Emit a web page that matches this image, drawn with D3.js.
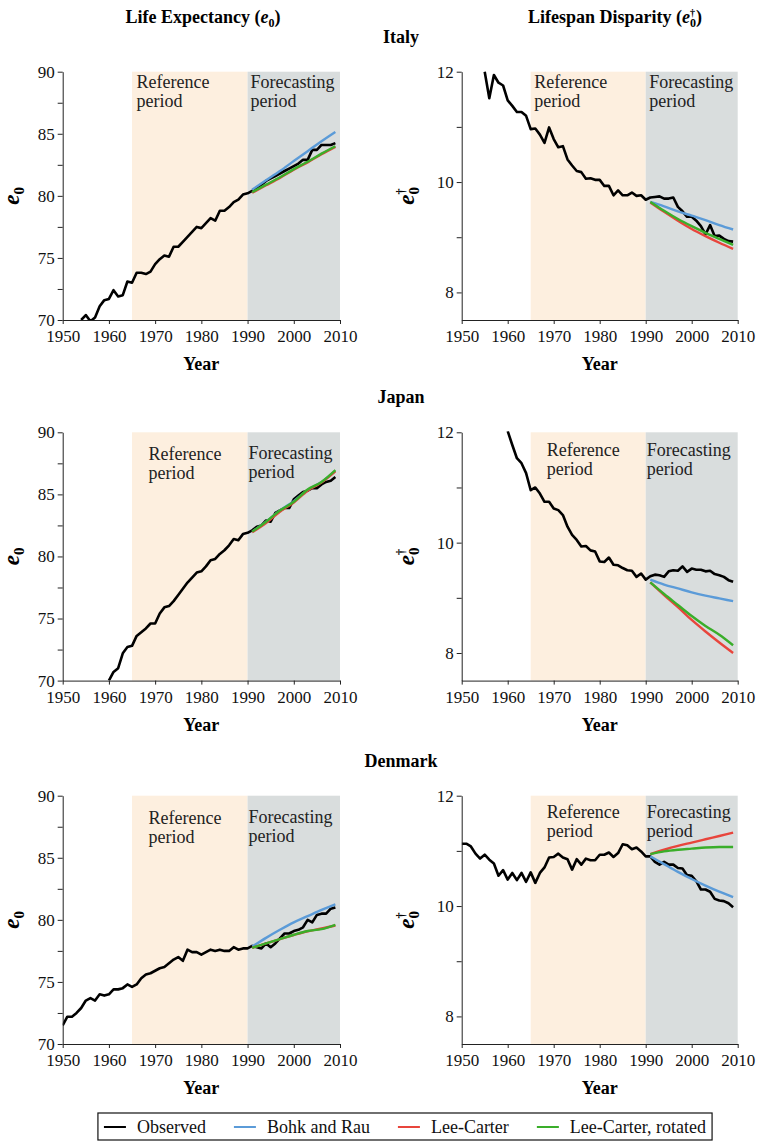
<!DOCTYPE html>
<html>
<head>
<meta charset="utf-8">
<script src="https://cdn.jsdelivr.net/npm/d3@7"></script>
<style>
  body { margin: 0; background: #fff; }
  svg { display: block; }
</style>
</head>
<body>
<svg id="chart" width="760" height="1142"></svg>
<script>
/* ---------- Data ---------- */
var countries = ["Italy", "Japan", "Denmark"];
var seriesNames = ["Observed", "Bohk and Rau", "Lee-Carter", "Lee-Carter, rotated"];
var seriesColors = ["#000000", "#5b9bd8", "#e8453c", "#3aae2a"];
var xTicks = [1950, 1960, 1970, 1980, 1990, 2000, 2010];
var e0Ticks = [70, 72.5, 75, 77.5, 80, 82.5, 85, 87.5, 90];
var edTicks = [8, 9, 10, 11, 12];
var referencePeriod = [1965, 1990];
var forecastPeriod = [1990, 2010];
var forecastYears = [1991, 1994, 1997, 2000, 2003, 2006, 2009];

/* observed series: first year + yearly values */
var italyE0Start = 1954;
var italyE0Obs = [70.0, 70.4, 69.9, 70.2, 71.1, 71.6, 71.7, 72.4, 71.9, 72.0,
  73.1, 73.0, 73.8, 73.8, 73.7, 73.9, 74.5, 74.9, 75.2, 75.1,
  75.9, 75.9, 76.3, 76.7, 77.1, 77.5, 77.4, 77.8, 78.2, 78.0,
  78.8, 78.8, 79.1, 79.5, 79.7, 80.1, 80.2, 80.4, 80.6, 80.9,
  81.2, 81.4, 81.6, 81.8, 82.0, 82.2, 82.4, 82.6, 82.9, 82.9,
  83.7, 83.7, 84.1, 84.1, 84.1, 84.25];
var italyEdStart = 1955;
var italyEdObs = [12.0, 11.52, 11.94, 11.8, 11.75, 11.48, 11.38, 11.27, 11.27, 11.2,
  10.96, 10.97, 10.86, 10.71, 10.99, 10.78, 10.63, 10.65, 10.41, 10.3,
  10.2, 10.18, 10.06, 10.07, 10.04, 10.04, 9.93, 9.93, 9.76, 9.85,
  9.76, 9.76, 9.81, 9.75, 9.76, 9.68, 9.72, 9.73, 9.74, 9.7,
  9.7, 9.72, 9.55, 9.47, 9.37, 9.37, 9.3, 9.2, 9.05, 9.22,
  9.02, 9.03, 8.97, 8.93, 8.92];
var japanE0Start = 1960;
var japanE0Obs = [70.0, 70.7, 71.0, 72.2, 72.7, 72.8, 73.6, 73.9, 74.2, 74.6,
  74.6, 75.4, 75.9, 76.0, 76.4, 76.9, 77.4, 77.9, 78.3, 78.7,
  78.8, 79.2, 79.7, 79.8, 80.2, 80.5, 80.9, 81.4, 81.3, 81.8,
  81.9, 82.1, 82.4, 82.5, 82.9, 82.8, 83.5, 83.7, 83.9, 83.9,
  84.6, 84.9, 85.2, 85.3, 85.5, 85.5, 85.8, 86.0, 86.1, 86.4];
var japanEdStart = 1960;
var japanEdObs = [12.02, 11.77, 11.53, 11.44, 11.26, 10.95, 11.0, 10.89, 10.74, 10.74,
  10.62, 10.59, 10.5, 10.29, 10.14, 10.05, 9.93, 9.94, 9.86, 9.84,
  9.66, 9.65, 9.73, 9.6, 9.59, 9.54, 9.5, 9.49, 9.38, 9.44,
  9.33, 9.39, 9.42, 9.41, 9.38, 9.48, 9.5, 9.49, 9.57, 9.47,
  9.53, 9.51, 9.51, 9.48, 9.49, 9.43, 9.41, 9.38, 9.32, 9.29];
var denmarkE0Start = 1950;
var denmarkE0Obs = [71.5, 72.2, 72.2, 72.5, 72.9, 73.5, 73.7, 73.5, 74.0, 73.9,
  74.0, 74.4, 74.4, 74.5, 74.8, 74.6, 74.8, 75.3, 75.6, 75.7,
  75.9, 76.1, 76.2, 76.5, 76.8, 77.0, 76.7, 77.6, 77.4, 77.4,
  77.2, 77.4, 77.6, 77.5, 77.6, 77.5, 77.5, 77.8, 77.6, 77.7,
  77.7, 77.9, 77.8, 77.7, 78.1, 77.8, 78.1, 78.5, 78.9, 78.9,
  79.1, 79.2, 79.4, 80.0, 79.8, 80.4, 80.5, 80.5, 80.9, 81.0];
var denmarkEdStart = 1950;
var denmarkEdObs = [11.13, 11.13, 11.08, 10.95, 10.86, 10.93, 10.84, 10.77, 10.55, 10.65,
  10.48, 10.6, 10.47, 10.6, 10.44, 10.61, 10.42, 10.6, 10.7, 10.88,
  10.89, 10.95, 10.88, 10.85, 10.66, 10.85, 10.75, 10.86, 10.83, 10.83,
  10.93, 10.93, 10.97, 10.89, 10.96, 11.12, 11.1, 11.03, 11.06, 10.99,
  10.9, 10.9, 10.8, 10.75, 10.8, 10.75, 10.75, 10.69, 10.68, 10.56,
  10.55, 10.45, 10.3, 10.3, 10.26, 10.13, 10.1, 10.09, 10.05, 9.98];

/* forecasts at forecastYears */
var italyE0Bohk = [80.5, 81.25, 82.0, 82.8, 83.6, 84.4, 85.15];
var italyE0Lc = [80.25, 80.85, 81.45, 82.1, 82.7, 83.35, 83.95];
var italyE0Lcr = [80.3, 80.9, 81.5, 82.15, 82.75, 83.4, 84.0];
var italyEdBohk = [9.64, 9.56, 9.47, 9.39, 9.31, 9.22, 9.14];
var italyEdLc = [9.63, 9.46, 9.3, 9.15, 9.02, 8.9, 8.79];
var italyEdLcr = [9.64, 9.48, 9.33, 9.2, 9.08, 8.97, 8.86];
var japanE0Bohk = [82.0, 82.8, 83.7, 84.45, 85.35, 86.0, 86.9];
var japanE0Lc = [81.95, 82.7, 83.6, 84.35, 85.3, 85.95, 86.85];
var japanE0Lcr = [82.0, 82.8, 83.7, 84.4, 85.4, 86.0, 86.95];
var japanEdBohk = [9.33, 9.24, 9.17, 9.1, 9.04, 8.99, 8.94];
var japanEdLc = [9.28, 9.05, 8.83, 8.6, 8.39, 8.19, 8.0];
var japanEdLcr = [9.28, 9.07, 8.87, 8.67, 8.49, 8.33, 8.14];
var denmarkE0Bohk = [77.85, 78.55, 79.2, 79.8, 80.3, 80.8, 81.25];
var denmarkE0Lc = [77.75, 78.1, 78.45, 78.78, 79.08, 79.3, 79.55];
var denmarkE0Lcr = [77.75, 78.1, 78.45, 78.8, 79.1, 79.25, 79.6];
var denmarkEdBohk = [10.9, 10.76, 10.62, 10.49, 10.37, 10.26, 10.16];
var denmarkEdLc = [10.94, 11.02, 11.09, 11.15, 11.21, 11.27, 11.33];
var denmarkEdLcr = [10.94, 10.99, 11.02, 11.04, 11.06, 11.07, 11.07];

/* ---------- Layout ---------- */
var fontFamily = '"Liberation Serif", "Times New Roman", Times, serif';
var colX = [[62.7, 340], [461.7, 737.7]];
var rowTop = [71.7, 432.3, 795.7];
var plotH = 248.3;
var tickFont = 17;
var noteFont = 18;

var svg = d3.select("svg#chart").style("font-family", fontFamily);

/* annotation offsets: [refDx, refDy, fcDx, fcDy] per row/column */
var noteOffsets = [
  [[4.5, 16.5, 3, 16.5], [3.5, 16.5, 3.5, 16.5]],
  [[16.5, 28, 1, 27], [16, 24, 1, 24]],
  [[16.5, 28, 1, 27], [16, 22.5, 1, 22.5]]
];

var panels = [
  { row: 0, col: 0, start: italyE0Start, obs: italyE0Obs, fc: [italyE0Bohk, italyE0Lc, italyE0Lcr] },
  { row: 0, col: 1, start: italyEdStart, obs: italyEdObs, fc: [italyEdBohk, italyEdLc, italyEdLcr] },
  { row: 1, col: 0, start: japanE0Start, obs: japanE0Obs, fc: [japanE0Bohk, japanE0Lc, japanE0Lcr] },
  { row: 1, col: 1, start: japanEdStart, obs: japanEdObs, fc: [japanEdBohk, japanEdLc, japanEdLcr] },
  { row: 2, col: 0, start: denmarkE0Start, obs: denmarkE0Obs, fc: [denmarkE0Bohk, denmarkE0Lc, denmarkE0Lcr] },
  { row: 2, col: 1, start: denmarkEdStart, obs: denmarkEdObs, fc: [denmarkEdBohk, denmarkEdLc, denmarkEdLcr] }
];

function drawPanel(p, idx) {
  var x0 = colX[p.col][0], x1 = colX[p.col][1];
  var top = rowTop[p.row], bottom = top + plotH;
  var isE0 = p.col === 0;

  var x = d3.scaleLinear().domain([1950, 2010]).range([x0, x1]);
  var y = d3.scaleLinear().domain(isE0 ? [70, 90] : [7.5, 12]).range([bottom, top]);

  var g = svg.append("g").attr("class", "panel");

  /* shaded periods */
  g.append("rect")
    .attr("x", x(referencePeriod[0])).attr("y", top)
    .attr("width", x(referencePeriod[1]) - x(referencePeriod[0]))
    .attr("height", plotH)
    .attr("fill", "#fdefdf");
  g.append("rect")
    .attr("x", x(forecastPeriod[0])).attr("y", top)
    .attr("width", x(forecastPeriod[1]) - x(forecastPeriod[0]))
    .attr("height", plotH)
    .attr("fill", "#d9dddd");

  /* period labels */
  var off = noteOffsets[p.row][p.col];
  var notes = [
    { x: x(referencePeriod[0]) + off[0], y: top + off[1], lines: ["Reference", "period"] },
    { x: x(forecastPeriod[0]) + off[2], y: top + off[3], lines: ["Forecasting", "period"] }
  ];
  notes.forEach(function(n) {
    var t = g.append("text")
      .attr("x", n.x).attr("y", n.y)
      .style("font-size", noteFont + "px")
      .attr("fill", "#222");
    n.lines.forEach(function(l, i) {
      t.append("tspan").attr("x", n.x).attr("dy", i === 0 ? 0 : 19).text(l);
    });
  });

  /* clip */
  var clipId = "clip" + idx;
  g.append("clipPath").attr("id", clipId)
    .append("rect").attr("x", x0).attr("y", top - 1).attr("width", x1 - x0 + 2).attr("height", plotH + 1);

  var lines = g.append("g").attr("clip-path", "url(#" + clipId + ")");

  var obsLine = d3.line()
    .x(function(d, i) { return x(p.start + i); })
    .y(function(d) { return y(d); });

  lines.append("path")
    .datum(p.obs)
    .attr("d", obsLine)
    .attr("fill", "none")
    .attr("stroke", seriesColors[0])
    .attr("stroke-width", 2.6)
    .attr("stroke-linejoin", "round");

  var fcLine = d3.line()
    .x(function(d, i) { return x(forecastYears[i]); })
    .y(function(d) { return y(d); })
    .curve(d3.curveMonotoneX);

  p.fc.forEach(function(s, k) {
    lines.append("path")
      .datum(s)
      .attr("d", fcLine)
      .attr("fill", "none")
      .attr("stroke", seriesColors[k + 1])
      .attr("stroke-width", 2.4)
      .attr("stroke-linejoin", "round");
  });

  /* axes */
  var yAxis = d3.axisLeft(y)
    .tickValues(isE0 ? e0Ticks : edTicks)
    .tickSize(5)
    .tickSizeOuter(0)
    .tickPadding(3)
    .tickFormat(function(d) {
      if (isE0) return d % 5 === 0 ? d : "";
      return d % 2 === 0 ? d : "";
    });
  var xAxis = d3.axisBottom(x)
    .tickValues(xTicks)
    .tickSize(4)
    .tickSizeOuter(0)
    .tickPadding(6)
    .tickFormat(d3.format("d"));

  var ya = g.append("g").attr("transform", "translate(" + x0 + ",0)").call(yAxis);
  var xa = g.append("g").attr("transform", "translate(0," + bottom + ")").call(xAxis);
  [ya, xa].forEach(function(a) {
    a.attr("font-family", fontFamily).attr("font-size", tickFont);
    a.selectAll("path, line").attr("stroke", "#222").attr("stroke-width", 1);
    a.selectAll("text").attr("fill", "#111");
  });

  /* axis titles */
  g.append("text")
    .attr("x", (x0 + x1) / 2).attr("y", bottom + 50)
    .attr("text-anchor", "middle")
    .style("font-size", "18px").style("font-weight", "bold")
    .text("Year");

  var yt = g.append("text")
    .attr("transform", "translate(" + (isE0 ? 19 : 414) + "," + (top + plotH / 2) + ") rotate(-90)")
    .attr("text-anchor", "middle")
    .style("font-weight", "bold");
  yt.append("tspan").style("font-style", "italic").style("font-size", "23px").text("e");
  if (!isE0) {
    yt.append("tspan").style("font-size", "12px").attr("dy", -9).text("\u2020");
    yt.append("tspan").style("font-size", "15px").attr("dx", -6).attr("dy", 14).text("0");
  } else {
    yt.append("tspan").style("font-size", "15px").attr("dy", 5).text("0");
  }
}

panels.forEach(drawPanel);

/* ---------- Column and row titles ---------- */
function header(cx, dagger, label) {
  var t = svg.append("text")
    .attr("x", cx).attr("y", 23)
    .attr("text-anchor", "middle")
    .style("font-size", "18px").style("font-weight", "bold");
  t.append("tspan").text(label + " (");
  t.append("tspan").style("font-style", "italic").text("e");
  if (dagger) {
    t.append("tspan").style("font-size", "10px").attr("dy", -7).text("\u2020");
    t.append("tspan").style("font-size", "12px").attr("dx", -5).attr("dy", 11).text("0");
    t.append("tspan").attr("dy", -4).text(")");
  } else {
    t.append("tspan").style("font-size", "12px").attr("dy", 4).text("0");
    t.append("tspan").attr("dy", -4).text(")");
  }
}
header(203, false, "Life Expectancy");
header(615, true, "Lifespan Disparity");

svg.selectAll(".country")
  .data(countries)
  .enter()
  .append("text")
  .attr("class", "country")
  .attr("x", 401)
  .attr("y", function(d, i) { return rowTop[i] - 29; })
  .attr("text-anchor", "middle")
  .style("font-size", "18px").style("font-weight", "bold")
  .text(function(d) { return d; });

/* ---------- Legend ---------- */
var legend = svg.append("g").attr("class", "legend");
var legendY = 1127;
var offsets = [];
var cursor = 0;
var items = legend.selectAll(".legend-item")
  .data(seriesNames)
  .enter()
  .append("g")
  .attr("class", "legend-item");

items.append("line")
  .attr("x1", 0).attr("x2", 22)
  .attr("y1", 0).attr("y2", 0)
  .attr("stroke", function(d, i) { return seriesColors[i]; })
  .attr("stroke-width", 2);

items.append("text")
  .attr("x", 33).attr("y", 6)
  .style("font-size", "18px")
  .attr("fill", "#111")
  .text(function(d) { return d; });

/* flow items left to right, then centre the box */
items.each(function() {
  offsets.push(cursor);
  cursor += d3.select(this).select("text").node().getComputedTextLength() + 33 + 28;
});
var legendW = cursor - 28;
var pad = 6;
var legendX = 405 - legendW / 2;
items.attr("transform", function(d, i) {
  return "translate(" + (legendX + offsets[i]) + "," + legendY + ")";
});
legend.insert("rect", ":first-child")
  .attr("x", legendX - pad).attr("y", 1113)
  .attr("width", legendW + 2 * pad).attr("height", 27)
  .attr("fill", "#fff")
  .attr("stroke", "#111")
  .attr("stroke-width", 1.2);
</script>
</body>
</html>
